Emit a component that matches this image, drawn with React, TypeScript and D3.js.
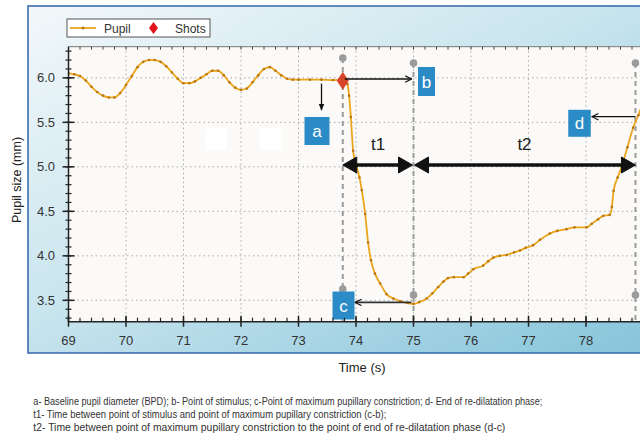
import React from 'react';
import * as d3 from 'd3';

// pupil trace (time in s, diameter in mm)
const pupilTime = [
  69.0, 69.1, 69.2, 69.3, 69.4, 69.5, 69.6, 69.7, 69.8, 69.9,
  70.0, 70.1, 70.2, 70.3, 70.4, 70.5, 70.6, 70.7, 70.8, 70.9,
  71.0, 71.1, 71.2, 71.3, 71.4, 71.5, 71.6, 71.7, 71.8, 71.9,
  72.0, 72.1, 72.2, 72.3, 72.4, 72.5, 72.6, 72.7, 72.8, 72.9,
  73.0, 73.2, 73.4, 73.6, 73.77, 73.85, 73.88, 73.91, 73.95, 74.01,
  74.06, 74.1, 74.16, 74.21, 74.26, 74.33, 74.42, 74.53, 74.65, 74.77,
  74.9, 75.0, 75.1, 75.23, 75.33, 75.43, 75.52, 75.6, 75.7, 75.87,
  75.95, 76.04, 76.21, 76.3, 76.39, 76.5, 76.62, 76.75, 76.85, 76.95,
  77.08, 77.2, 77.37, 77.5, 77.66, 77.8, 78.01, 78.1, 78.21, 78.3,
  78.41, 78.45, 78.48, 78.55, 78.62, 78.72, 78.82, 78.91, 78.98,
];
const pupilSize = [
  6.05, 6.04, 6.02, 5.97, 5.9, 5.84, 5.8, 5.78, 5.78, 5.83,
  5.92, 6.02, 6.12, 6.18, 6.2, 6.2, 6.18, 6.13, 6.06, 5.99,
  5.94, 5.94, 5.96, 6.0, 6.04, 6.08, 6.08, 6.03, 5.95, 5.89,
  5.865, 5.88, 5.95, 6.03, 6.1, 6.12, 6.08, 6.03, 5.99, 5.98,
  5.98, 5.98, 5.98, 5.975, 5.98, 5.93, 5.8, 5.56, 5.18, 5.0,
  4.88, 4.74, 4.47, 4.15, 3.95, 3.8, 3.69, 3.57, 3.52, 3.49,
  3.47, 3.46, 3.48, 3.52, 3.58, 3.65, 3.71, 3.75, 3.76, 3.76,
  3.8, 3.85, 3.89, 3.94, 3.98, 4.0, 4.01, 4.04, 4.06, 4.09,
  4.12, 4.18, 4.25, 4.28, 4.3, 4.32, 4.32, 4.36, 4.41, 4.45,
  4.46, 4.55, 4.73, 4.88, 5.0, 5.22, 5.44, 5.58, 5.7,
];

const xTickLabels = [69, 70, 71, 72, 73, 74, 75, 76, 77, 78];
const yTickLabels = [3.5, 4.0, 4.5, 5.0, 5.5, 6.0];

// event times
const stimulusTime = 73.77;
const stimulusSize = 5.98;
const constrictionTime = 75.0;
const constrictionSize = 3.46;
const endTime = 78.86;

const footnotes = [
  'a- Baseline pupil diameter (BPD); b- Point of stimulus; c-Point of maximum pupillary constriction; d- End of re-dilatation phase;',
  't1- Time between point of stimulus and point of maximum pupillary constriction (c-b);',
  't2- Time between point of maximum pupillary constriction to the point of end of re-dilatation phase (d-c)',
];
const footnoteWidths = [509, 353, 472];

const W = 640;
const H = 435;

function Box({ cx, cy, w, h, label }: { cx: number; cy: number; w: number; h: number; label: string }) {
  return (
    <g>
      <rect x={cx - w / 2} y={cy - h / 2} width={w} height={h} fill="#2b8bc6" />
      <text x={cx} y={cy + 6} textAnchor="middle" fill="#fff" fontSize={17}
        fontFamily="'Liberation Sans', Arial, sans-serif">{label}</text>
    </g>
  );
}

function DoubleArrow({ x1, x2, yy }: { x1: number; x2: number; yy: number }) {
  const hl = 14;
  const hh = 8;
  return (
    <g fill="#111" stroke="#111">
      <line x1={x1 + hl - 2} x2={x2 - hl + 2} y1={yy} y2={yy} strokeWidth={3.5} />
      <polygon points={`${x1},${yy} ${x1 + hl},${yy - hh} ${x1 + hl},${yy + hh}`} strokeWidth={1} />
      <polygon points={`${x2},${yy} ${x2 - hl},${yy - hh} ${x2 - hl},${yy + hh}`} strokeWidth={1} />
    </g>
  );
}

export default function App() {
  const x = d3.scaleLinear().domain([69, 79]).range([68.5, 643.5]);
  const y = d3.scaleLinear().domain([3.26, 6.35]).range([321.7, 46.7]);
  const x0 = x(69);
  const yBottom = y(3.26);
  const yTop = y(6.35);

  const pts: [number, number][] = pupilTime.map((t, i) => [t, pupilSize[i]]);
  const line = d3.line<[number, number]>()
    .x(d => x(d[0]))
    .y(d => y(d[1]))
    .curve(d3.curveMonotoneX);

  const xMinor = d3.range(69, 79.01, 0.2);
  const yMinor = d3.range(3.3, 6.35, 0.1);

  const xs = x(stimulusTime);
  const xc = x(constrictionTime);
  const xe = x(endTime);
  const font = "'Liberation Sans', Arial, Helvetica, sans-serif";

  return (
    <svg width={W} height={H} style={{ position: 'absolute', left: 0, top: 0, background: '#fff' }}>
      <defs>
        <linearGradient id="panel" x1="0" y1="0" x2="1" y2="1">
          <stop offset="0" stopColor="#f3f8fa" />
          <stop offset="0.45" stopColor="#c9e5ee" />
          <stop offset="1" stopColor="#84c3da" />
        </linearGradient>
        <marker id="head" viewBox="0 0 10 10" refX="9" refY="5" markerWidth="8" markerHeight="8"
          orient="auto-start-reverse" markerUnits="userSpaceOnUse">
          <path d="M1,1 L9,5 L1,9" fill="none" stroke="#111" strokeWidth={1.4} />
        </marker>
        <marker id="headFill" viewBox="0 0 10 10" refX="9" refY="5" markerWidth="7" markerHeight="7"
          orient="auto" markerUnits="userSpaceOnUse">
          <path d="M0,1 L10,5 L0,9 Z" fill="#111" />
        </marker>
        <clipPath id="plotClip">
          <rect x={x0} y={yTop} width={W - x0} height={yBottom - yTop} />
        </clipPath>
      </defs>

      {/* outer panel */}
      <rect x={28} y={6} width={640} height={347} fill="url(#panel)" stroke="#3d6db2" strokeWidth={1.6} />

      {/* plot background */}
      <rect x={x0} y={yTop} width={W - x0 + 5} height={yBottom - yTop} fill="#fbfaf8" />
      <rect x={205.7} y={128.3} width={21} height={21.7} fill="#ffffff" />
      <rect x={260} y={128.3} width={21.7} height={21.7} fill="#ffffff" />

      {/* grid */}
      <g stroke="#aaa" strokeWidth={1} strokeDasharray="1.5,3">
        {xTickLabels.slice(1).map(t => (
          <line key={'gx' + t} x1={x(t)} x2={x(t)} y1={yTop} y2={yBottom} />
        ))}
        {yTickLabels.map(v => (
          <line key={'gy' + v} x1={x0} x2={W} y1={y(v)} y2={y(v)} />
        ))}
      </g>

      {/* top frame ticks */}
      <line x1={x0} x2={W} y1={yTop} y2={yTop} stroke="#777" strokeWidth={1} />
      <g stroke="#444" strokeWidth={1}>
        {xMinor.map((t, i) => (
          <line key={'tt' + i} x1={x(t)} x2={x(t)} y1={yTop} y2={yTop + 3} />
        ))}
      </g>

      {/* event markers (dashed verticals) */}
      <g stroke="#9b9b9b" strokeWidth={2} strokeDasharray="5,4">
        <line x1={xs} x2={xs} y1={58} y2={yBottom} />
        <line x1={xc} x2={xc} y1={63} y2={yBottom} />
        <line x1={xe} x2={xe} y1={63} y2={yBottom} />
      </g>
      <g fill="#9b9b9b">
        <circle cx={xs} cy={58} r={3.8} />
        <circle cx={xc} cy={63} r={3.8} />
        <circle cx={xe} cy={63} r={3.8} />
        <circle cx={xs} cy={289} r={3.8} />
        <circle cx={xc} cy={295} r={3.8} />
        <circle cx={xe} cy={295} r={3.8} />
      </g>

      {/* pupil curve */}
      <g clipPath="url(#plotClip)">
        <path d={line(pts) || ''} fill="none" stroke="#eba51c" strokeWidth={1.8} />
        {pts.map((d, i) => (
          <circle key={'p' + i} cx={x(d[0])} cy={y(d[1])} r={1.3} fill="#b87510" />
        ))}
      </g>

      {/* shot marker */}
      <path d={`M${xs},${y(stimulusSize) - 8} L${xs + 6},${y(stimulusSize) + 1} L${xs},${y(stimulusSize) + 10} L${xs - 6},${y(stimulusSize) + 1} Z`}
        fill="#d8452b" />

      {/* annotations */}
      <line x1={x(73.4)} x2={x(73.4)} y1={y(stimulusSize) + 4} y2={110} stroke="#111" strokeWidth={1.3}
        markerEnd="url(#headFill)" />
      <Box cx={317} cy={131} w={25} h={28} label="a" />

      <line x1={xs + 2} x2={xc - 2} y1={79} y2={79} stroke="#111" strokeWidth={1.6} markerEnd="url(#head)" />
      <Box cx={426.5} cy={81.5} w={17} h={29} label="b" />

      <line x1={xc - 2} x2={355} y1={y(constrictionSize) - 1.5} y2={y(constrictionSize) - 1.5}
        stroke="#333" strokeWidth={1.6} markerEnd="url(#head)" />
      <Box cx={343.5} cy={305.5} w={22} h={28} label="c" />

      <line x1={xe} x2={592} y1={116.7} y2={116.7} stroke="#111" strokeWidth={1.3} markerEnd="url(#head)" />
      <Box cx={579.5} cy={123.3} w={22.5} h={27} label="d" />

      <DoubleArrow x1={xs} x2={xc - 1} yy={165} />
      <DoubleArrow x1={xc + 1} x2={xe} yy={165} />
      <text x={(xs + xc) / 2} y={150} textAnchor="middle" fontSize={17} fill="#222" fontFamily={font}>t1</text>
      <text x={(xc + xe) / 2} y={150} textAnchor="middle" fontSize={17} fill="#222" fontFamily={font}>t2</text>

      {/* x axis */}
      <line x1={x0} x2={W} y1={yBottom} y2={yBottom} stroke="#222" strokeWidth={1.5} />
      <g stroke="#222" strokeWidth={1.2}>
        {xMinor.map((t, i) => (
          <line key={'xm' + i} x1={x(t)} x2={x(t)} y1={yBottom} y2={yBottom - 4} />
        ))}
        {xTickLabels.map(t => (
          <line key={'xM' + t} x1={x(t)} x2={x(t)} y1={yBottom - 6} y2={yBottom + 5} strokeWidth={1.5} />
        ))}
      </g>
      <g fontFamily={font} fontSize={13} fill="#333" textAnchor="middle">
        {xTickLabels.map(t => (
          <text key={'xl' + t} x={x(t)} y={345}>{t}</text>
        ))}
      </g>

      {/* y axis */}
      <line x1={x0} x2={x0} y1={yTop} y2={yBottom} stroke="#222" strokeWidth={1.5} />
      <g stroke="#222" strokeWidth={1.2}>
        {yMinor.map((v, i) => (
          <line key={'ym' + i} x1={x0 - 3} x2={x0 + 3} y1={y(v)} y2={y(v)} />
        ))}
        {yTickLabels.map(v => (
          <line key={'yM' + v} x1={x0 - 6} x2={x0 + 6} y1={y(v)} y2={y(v)} strokeWidth={1.5} />
        ))}
      </g>
      <g fontFamily={font} fontSize={13} fill="#333" textAnchor="end">
        {yTickLabels.map(v => (
          <text key={'yl' + v} x={55} y={y(v) + 4.5}>{v.toFixed(1)}</text>
        ))}
      </g>

      {/* legend */}
      <rect x={67} y={19} width={143} height={18} fill="#fff" stroke="#555" strokeWidth={1} />
      <line x1={70} x2={96} y1={28} y2={28} stroke="#eba51c" strokeWidth={1.8} />
      <circle cx={83} cy={28} r={1.5} fill="#b87510" />
      <text x={104} y={32.5} fontFamily={font} fontSize={12} fill="#333">Pupil</text>
      <path d="M153.5,22 L158,28 L153.5,34 L149,28 Z" fill="#e0141a" />
      <text x={175} y={32.5} fontFamily={font} fontSize={12} fill="#333">Shots</text>

      {/* axis titles */}
      <text transform="translate(21,180) rotate(-90)" textAnchor="middle" fontFamily={font} fontSize={12.5}
        fill="#222">Pupil size (mm)</text>
      <text x={362} y={372} textAnchor="middle" fontFamily={font} fontSize={13} fill="#222">Time (s)</text>

      {/* footnotes */}
      <g fontFamily="'Liberation Sans Narrow', 'Arial Narrow', 'Liberation Sans', sans-serif" fontSize={10} fill="#333">
        {footnotes.map((f, i) => (
          <text key={'fn' + i} x={33.3} y={404.5 + i * 13.3} textLength={footnoteWidths[i]} lengthAdjust="spacingAndGlyphs">{f}</text>
        ))}
      </g>
    </svg>
  );
}
